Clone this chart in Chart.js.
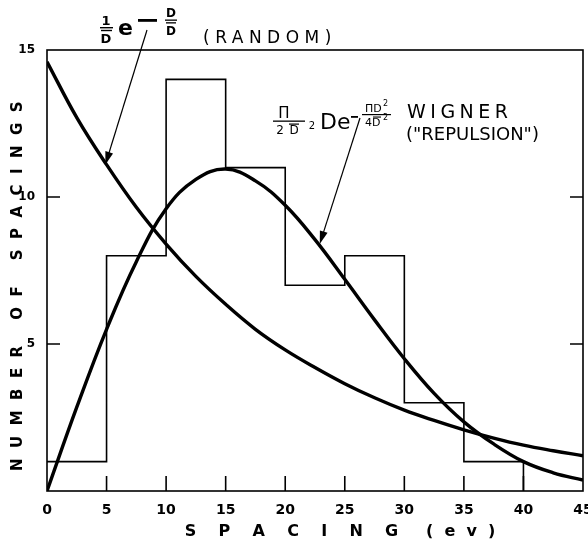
<!DOCTYPE html>
<html>
<head>
<meta charset="utf-8">
<script src="https://cdn.jsdelivr.net/npm/chart.js@4"></script>
<style>
  html, body { margin: 0; padding: 0; background: #fff; }
  #wrap { width: 588px; height: 543px; position: relative; }
</style>
</head>
<body>
<div id="wrap"><canvas id="myChart"></canvas></div>
<script>
// histogram: number of spacings per 5 ev bin (bin start -> count)
const binStarts = [0, 5, 10, 15, 20, 25, 30, 35, 40];
const counts = [1, 8, 14, 11, 7, 8, 3, 1, 0];

// the two theoretical curves
const curveX = [0, 2.5, 5, 7.5, 10, 12.5, 15, 17.5, 20, 22.5, 25, 27.5, 30, 32.5, 35, 37.5, 40, 42.5, 45];
const randomY = [14.6, 12.7, 11.1, 9.65, 8.4, 7.3, 6.35, 5.5, 4.8, 4.2, 3.65, 3.17, 2.75, 2.4, 2.08, 1.8, 1.56, 1.37, 1.2];
const wignerY = [0, 2.85, 5.5, 7.8, 9.6, 10.6, 10.95, 10.55, 9.72, 8.55, 7.2, 5.82, 4.5, 3.32, 2.35, 1.6, 1.0, 0.62, 0.37];

const xTicks = [0, 5, 10, 15, 20, 25, 30, 35, 40, 45];
const yTicks = [5, 10, 15];

const FONT = "'DejaVu Sans', sans-serif";

function arrow(ctx, x1, y1, x2, y2) {
    const a = Math.atan2(y2 - y1, x2 - x1);
    ctx.beginPath();
    ctx.moveTo(x1, y1);
    ctx.lineTo(x2 - 8 * Math.cos(a), y2 - 8 * Math.sin(a));
    ctx.lineWidth = 1.2;
    ctx.stroke();
    ctx.beginPath();
    ctx.moveTo(x2, y2);
    ctx.lineTo(x2 - 13 * Math.cos(a) + 4 * Math.sin(a), y2 - 13 * Math.sin(a) - 4 * Math.cos(a));
    ctx.lineTo(x2 - 13 * Math.cos(a) - 4 * Math.sin(a), y2 - 13 * Math.sin(a) + 4 * Math.cos(a));
    ctx.closePath();
    ctx.fill();
}

function txt(ctx, s, x, y, size, align, weight, spacing) {
    ctx.font = (weight || 'normal') + ' ' + size + 'px ' + FONT;
    ctx.textAlign = align || 'left';
    ctx.letterSpacing = (spacing || 0) + 'px';
    ctx.fillText(s, x, y);
    ctx.letterSpacing = '0px';
}

const decor = {
    id: 'decor',
    afterDraw(chart) {
        const {ctx, chartArea: a, scales: {x, y}} = chart;
        ctx.save();
        ctx.strokeStyle = '#000';
        ctx.fillStyle = '#000';

        // frame and inward ticks
        ctx.lineWidth = 1.6;
        ctx.strokeRect(a.left, a.top, a.right - a.left, a.bottom - a.top);
        ctx.beginPath();
        xTicks.forEach(v => {
            if (v > 0 && v < 45) {
                const px = x.getPixelForValue(v);
                ctx.moveTo(px, a.bottom);
                ctx.lineTo(px, a.bottom - 15);
            }
        });
        [5, 10].forEach(v => {
            const py = y.getPixelForValue(v);
            ctx.moveTo(a.left, py); ctx.lineTo(a.left + 13, py);
            ctx.moveTo(a.right, py); ctx.lineTo(a.right - 13, py);
        });
        ctx.stroke();

        // random label: (1/D) e^-(D/D)  (RANDOM)
        txt(ctx, '1', 106, 25, 13, 'center', 'bold');
        ctx.fillRect(100, 27, 13, 1.4);
        ctx.fillRect(101, 29.8, 11, 1.4);
        txt(ctx, 'D', 106, 43, 13, 'center', 'bold');
        txt(ctx, 'e', 118, 35, 22, 'left', 'bold');
        ctx.fillRect(138, 19, 19, 2.8);
        txt(ctx, 'D', 171, 17, 12, 'center', 'bold');
        ctx.fillRect(165, 19.5, 12, 1.3);
        ctx.fillRect(166, 22.2, 10, 1.3);
        txt(ctx, 'D', 171, 35, 12, 'center', 'bold');
        txt(ctx, '(RANDOM)', 203, 43, 17, 'left', 'normal', 5.5);

        // wigner label: pi/(2 D^2) D e^-(pi D^2 / 4 D^2)  WIGNER ("REPULSION")
        txt(ctx, 'Π', 284, 118, 15, 'center');
        ctx.fillRect(273, 120.5, 32, 1.3);
        txt(ctx, '2', 280, 134, 12, 'center');
        txt(ctx, 'D', 294, 134, 12, 'center');
        ctx.fillRect(289, 123.5, 10, 1.2);
        txt(ctx, '2', 312, 129, 10, 'center');
        txt(ctx, 'De', 320, 129, 22, 'left');
        ctx.fillRect(351, 116, 7, 1.8);
        txt(ctx, 'ΠD', 365, 112, 11, 'left');
        txt(ctx, '2', 383, 106, 8, 'left');
        ctx.fillRect(362, 114, 29, 1.2);
        txt(ctx, '4D', 365, 126, 11, 'left');
        ctx.fillRect(373, 116.5, 8, 1.1);
        txt(ctx, '2', 383, 120, 8, 'left');
        txt(ctx, 'WIGNER', 407, 118, 19, 'left', 'normal', 4.5);
        txt(ctx, '("REPULSION")', 406, 140, 18, 'left');

        // arrows pointing to the curves
        arrow(ctx, 147, 30, x.getPixelForValue(4.9), y.getPixelForValue(11.1));
        arrow(ctx, 360, 118, x.getPixelForValue(22.9), y.getPixelForValue(8.4));
        ctx.restore();
    }
};

const ctx = document.getElementById('myChart').getContext('2d');
window.myChart = new Chart(ctx, {
    type: 'line',
    data: {
        datasets: [{
            label: 'Spacings',
            data: binStarts.map((b, i) => ({x: b, y: counts[i]})),
            stepped: 'before',
            borderColor: '#000',
            borderWidth: 1.6,
            pointRadius: 0,
            fill: false,
        }, {
            label: 'Random',
            data: curveX.map((v, i) => ({x: v, y: randomY[i]})),
            borderColor: '#000',
            borderWidth: 3.4,
            pointRadius: 0,
            tension: 0.4,
            fill: false,
        }, {
            label: 'Wigner',
            data: curveX.map((v, i) => ({x: v, y: wignerY[i]})),
            borderColor: '#000',
            borderWidth: 3.4,
            pointRadius: 0,
            tension: 0.4,
            fill: false,
        }]
    },
    options: {
        responsive: true,
        maintainAspectRatio: false,
        animation: false,
        layout: {padding: {top: 50, right: 5, left: 0, bottom: 0}},
        plugins: {legend: {display: false}, tooltip: {enabled: false}},
        scales: {
            x: {
                type: 'linear',
                min: 0,
                max: 45,
                grid: {display: false},
                border: {display: false},
                afterFit(scale) { scale.height = 52; scale.paddingLeft = 0; scale.paddingRight = 0; },
                afterBuildTicks(scale) { scale.ticks = xTicks.map(v => ({value: v})); },
                ticks: {color: '#000', padding: 3, maxRotation: 0, font: {family: FONT, size: 14, weight: 'bold'}},
                title: {
                    display: true,
                    text: '         S    P    A    C    I    N    G     (  e  v  )',
                    color: '#000',
                    padding: {top: 0, bottom: 2},
                    font: {family: FONT, size: 16, weight: 'bold'}
                }
            },
            y: {
                min: 0,
                max: 15,
                grid: {display: false},
                border: {display: false},
                afterFit(scale) { scale.width = 47; },
                afterBuildTicks(scale) { scale.ticks = yTicks.map(v => ({value: v})); },
                ticks: {color: '#000', padding: 4, font: {family: FONT, size: 12, weight: 'bold'}},
                title: {
                    display: true,
                    text: 'N  U  M  B  E  R     O  F     S  P  A  C  I  N  G  S      ',
                    color: '#000',
                    padding: {top: 9, bottom: 0},
                    font: {family: FONT, size: 15, weight: 'bold'}
                }
            }
        }
    },
    plugins: [decor]
});
</script>
</body>
</html>
